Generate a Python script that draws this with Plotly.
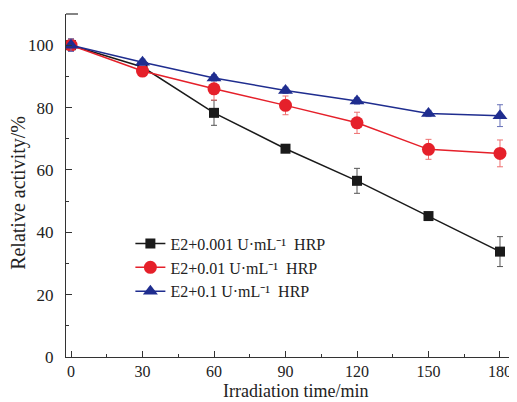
import plotly.graph_objects as go

time_min = [0, 30, 60, 90, 120, 150, 180]

act_0001 = [100, 93.0, 78.3, 66.8, 56.5, 45.2, 33.8]
err_0001 = [2.0, 1.0, 4.0, 1.0, 4.0, 1.0, 4.8]

act_001 = [100, 91.7, 86.0, 80.7, 75.1, 66.6, 65.3]
err_001 = [2.0, 1.5, 3.6, 3.0, 3.4, 3.2, 4.3]

act_01 = [100, 94.5, 89.5, 85.5, 82.1, 78.1, 77.4]
err_01 = [2.0, 1.0, 1.0, 1.0, 1.0, 1.0, 3.5]

names = ["E2+0.001 U·mL⁻¹  HRP",
         "E2+0.01 U·mL⁻¹  HRP",
         "E2+0.1 U·mL⁻¹  HRP"]

x_ticks = [0, 30, 60, 90, 120, 150, 180]
y_ticks = [0, 20, 40, 60, 80, 100]

x_title = "Irradiation time/min"
y_title = "Relative activity/%"

FONT = "Liberation Serif, Times New Roman, serif"

fig = go.Figure()
series = [
    (act_0001, err_0001, "#1a1a1a", "#555555", "square", 10),
    (act_001, err_001, "#e5202a", "#ee7070", "circle", 13),
    (act_01, err_01, "#1f2d8f", "#6670b8", "triangle-up", 13),
]
for (vals, errs, col, ecol, sym, sz), nm in zip(series, names):
    fig.add_trace(go.Scatter(
        x=time_min, y=vals, name=nm, mode="lines+markers",
        line=dict(color=col, width=1.5),
        marker=dict(symbol=sym, size=sz, color=col),
        error_y=dict(type="data", array=errs, visible=True,
                     color=ecol, thickness=1, width=3),
    ))

# page body has an 8px margin: shrink the figure so it ends at 517x402
fig.update_layout(
    width=509, height=394,
    margin=dict(l=58, r=7, t=6, b=45, autoexpand=False),
    plot_bgcolor="white", paper_bgcolor="white",
    font=dict(family=FONT, size=17, color="#222"),
    showlegend=True,
    legend=dict(x=0.145, y=0.38, xanchor="left", yanchor="top",
                bgcolor="rgba(0,0,0,0)", font=dict(family=FONT, size=16, color="#222"),
                tracegroupgap=0, itemwidth=30),
    xaxis=dict(range=[-2.1, 184.2], tickmode="array", tickvals=x_ticks,
               ticks="inside", ticklen=6, tickwidth=1, tickcolor="#333",
               showline=True, linecolor="#333", linewidth=1.2,
               showgrid=False, zeroline=False, automargin=False,
               ticklabelstandoff=0,
               minor=dict(ticks="inside", ticklen=3, tickwidth=1, tickcolor="#333", dtick=15, tick0=0, showgrid=False),
               tickfont=dict(family=FONT, size=16)),
    yaxis=dict(range=[0, 110], tickmode="array", tickvals=y_ticks,
               ticks="inside", ticklen=6, tickwidth=1, tickcolor="#333",
               showline=True, linecolor="#333", linewidth=1.2,
               showgrid=False, zeroline=False, automargin=False,
               ticklabelstandoff=8,
               minor=dict(ticks="inside", ticklen=3, tickwidth=1, tickcolor="#333", dtick=10, tick0=0, showgrid=False),
               tickfont=dict(family=FONT, size=17)),
)

fig.add_annotation(text=x_title, xref="paper", yref="paper", x=0.518, y=-0.1,
                   xanchor="center", yanchor="middle", showarrow=False,
                   font=dict(family=FONT, size=18, color="#222"))
fig.add_annotation(text=y_title, xref="paper", yref="paper", x=-0.107, y=0.48,
                   xanchor="center", yanchor="middle", showarrow=False, textangle=-90,
                   font=dict(family=FONT, size=20, color="#222"))

fig.add_shape(type="line", xref="paper", yref="paper", x0=0, x1=0.027, y0=1, y1=1,
              line=dict(color="#333", width=1.2))
fig.add_shape(type="line", xref="paper", yref="paper", x0=1, x1=1, y0=0, y1=0.03,
              line=dict(color="#333", width=1.2))

fig.write_html("out.html")
